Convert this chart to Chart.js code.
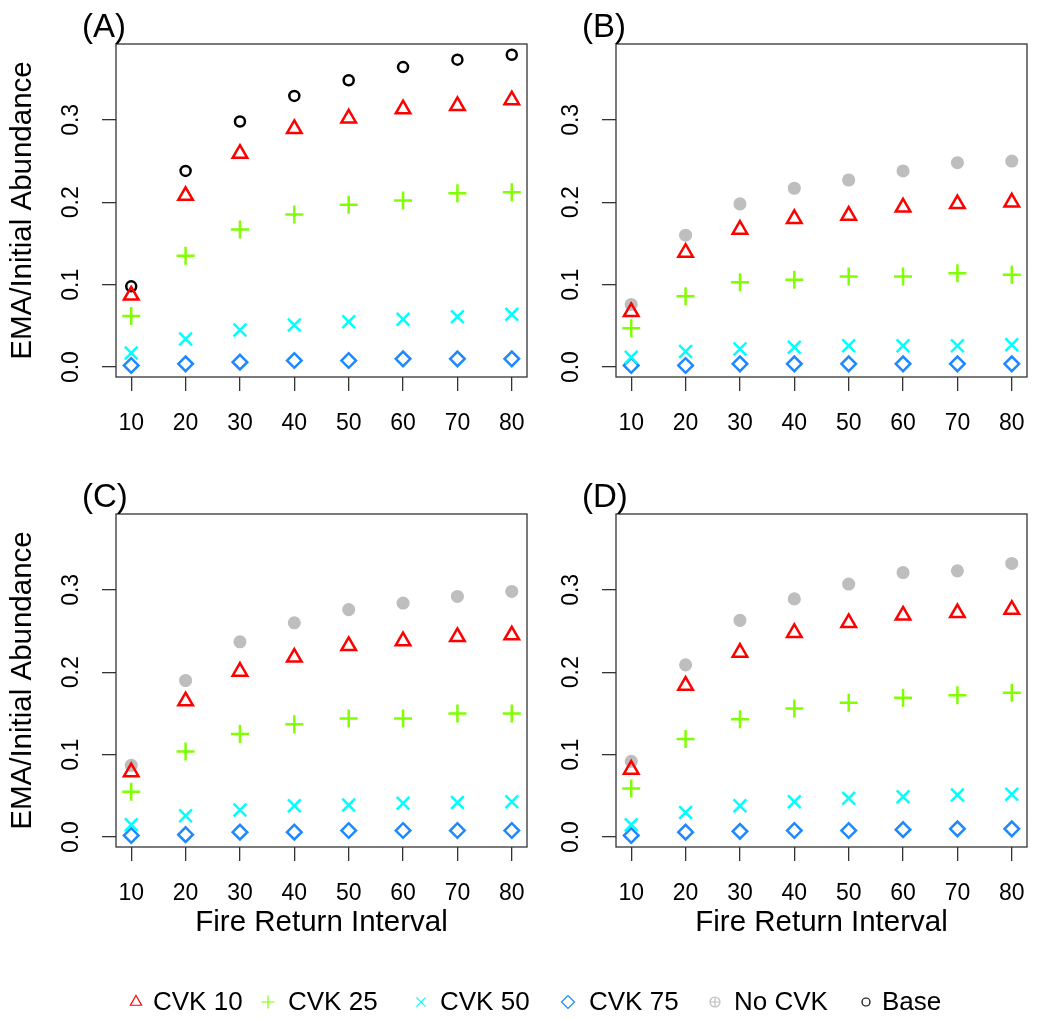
<!DOCTYPE html>
<html>
<head>
<meta charset="utf-8">
<script src="https://cdn.jsdelivr.net/npm/chart.js"></script>
<style>
  html, body { margin: 0; padding: 0; background: #fff; overflow: hidden; }
  #wrap { position: relative; width: 1044px; height: 1021px; }
  canvas { position: absolute; }
</style>
</head>
<body>
<div id="wrap">
  <canvas id="panel-a" width="544" height="470" style="left:0;top:0"></canvas>
  <canvas id="panel-b" width="544" height="470" style="left:500px;top:0"></canvas>
  <canvas id="panel-c" width="544" height="470" style="left:0;top:470px"></canvas>
  <canvas id="panel-d" width="544" height="470" style="left:500px;top:470px"></canvas>
  <canvas id="legend" width="1044" height="61" style="left:0;top:960px"></canvas>
</div>
<script>
// x values and tick marks
const fireInterval = [10, 20, 30, 40, 50, 60, 70, 80];
const yTicks = [0, 0.1, 0.2, 0.3];

// (A)
const cvk10A = [0.087, 0.208, 0.259, 0.289, 0.302, 0.313, 0.317, 0.324];
const cvk25A = [0.062, 0.135, 0.167, 0.185, 0.197, 0.202, 0.211, 0.212];
const cvk50A = [0.017, 0.034, 0.045, 0.051, 0.055, 0.058, 0.061, 0.064];
const cvk75A = [0.002, 0.004, 0.006, 0.008, 0.008, 0.010, 0.010, 0.010];
const baseA  = [0.098, 0.238, 0.298, 0.329, 0.348, 0.364, 0.373, 0.379];

// (B)
const cvk10B = [0.067, 0.139, 0.167, 0.180, 0.184, 0.194, 0.198, 0.200];
const cvk25B = [0.047, 0.086, 0.103, 0.106, 0.110, 0.110, 0.114, 0.112];
const cvk50B = [0.012, 0.019, 0.022, 0.024, 0.026, 0.026, 0.026, 0.027];
const cvk75B = [0.002, 0.002, 0.004, 0.004, 0.004, 0.004, 0.004, 0.004];
const noCvkB = [0.076, 0.160, 0.198, 0.217, 0.227, 0.238, 0.248, 0.250];

// (C)
const cvk10C = [0.079, 0.165, 0.201, 0.218, 0.232, 0.238, 0.243, 0.245];
const cvk25C = [0.055, 0.104, 0.125, 0.137, 0.144, 0.144, 0.150, 0.150];
const cvk50C = [0.015, 0.026, 0.033, 0.038, 0.039, 0.041, 0.042, 0.043];
const cvk75C = [0.002, 0.003, 0.006, 0.006, 0.008, 0.008, 0.008, 0.008];
const noCvkC = [0.087, 0.190, 0.237, 0.260, 0.276, 0.284, 0.292, 0.298];

// (D)
const cvk10D = [0.082, 0.184, 0.224, 0.248, 0.260, 0.269, 0.272, 0.276];
const cvk25D = [0.059, 0.119, 0.143, 0.156, 0.163, 0.169, 0.172, 0.175];
const cvk50D = [0.015, 0.030, 0.038, 0.043, 0.047, 0.049, 0.051, 0.052];
const cvk75D = [0.002, 0.006, 0.007, 0.008, 0.008, 0.009, 0.010, 0.010];
const noCvkD = [0.092, 0.209, 0.263, 0.289, 0.307, 0.321, 0.323, 0.332];

const legendLabels = ['CVK 10', 'CVK 25', 'CVK 50', 'CVK 75', 'No CVK', 'Base'];

const FONT = '"Liberation Sans", Arial, sans-serif';
const NONE = 'rgba(0,0,0,0)';

// marker looks, one per series
const styles = {
  cvk10: { pointStyle: 'triangle', pointRadius: 8.4, pointBorderWidth: 2.5, pointBorderColor: '#FF0000', pointBackgroundColor: NONE },
  cvk25: { pointStyle: 'cross', pointRadius: 9, pointBorderWidth: 2.5, pointBorderColor: '#7FFF00', pointBackgroundColor: NONE },
  cvk50: { pointStyle: 'crossRot', pointRadius: 9, pointBorderWidth: 2.5, pointBorderColor: '#00FFFF', pointBackgroundColor: NONE },
  cvk75: { pointStyle: 'rectRot', pointRadius: 7.3, pointBorderWidth: 2.5, pointBorderColor: '#1E88FF', pointBackgroundColor: NONE },
  noCvk: { pointStyle: 'circle', pointRadius: 5.8, pointBorderWidth: 1.5, pointBorderColor: '#BEBEBE', pointBackgroundColor: '#BEBEBE' },
  base:  { pointStyle: 'circle', pointRadius: 5, pointBorderWidth: 2.5, pointBorderColor: '#000000', pointBackgroundColor: NONE }
};

function series(label, values, style) {
  return Object.assign({
    label: label,
    data: values.map((v, i) => ({ x: fireInterval[i], y: v })),
    showLine: false,
    pointHoverRadius: 0
  }, styles[style]);
}

// box round the plot plus panel letter and axis titles
const panelDecor = {
  id: 'panelDecor',
  beforeDatasetsDraw(chart, args, opts) {
    const { ctx, chartArea: a } = chart;
    ctx.save();
    ctx.strokeStyle = '#333';
    ctx.lineWidth = 1.3;
    ctx.strokeRect(a.left, a.top, a.right - a.left, a.bottom - a.top);
    ctx.fillStyle = '#000';
    ctx.textAlign = 'left';
    ctx.textBaseline = 'alphabetic';
    ctx.font = '33px ' + FONT;
    ctx.fillText(opts.label, a.left - 34, a.top - 7);
    ctx.font = '29.5px ' + FONT;
    ctx.textAlign = 'center';
    ctx.textBaseline = 'middle';
    if (opts.yTitle) {
      ctx.save();
      ctx.translate(23, (a.top + a.bottom) / 2);
      ctx.rotate(-Math.PI / 2);
      ctx.fillText(opts.yTitle, 0, 0);
      ctx.restore();
    }
    if (opts.xTitle) {
      ctx.fillText(opts.xTitle, (a.left + a.right) / 2, a.bottom + 76);
    }
    ctx.restore();
  }
};

function renderPanel(id, datasets, decor) {
  const ctx = document.getElementById(id).getContext('2d');
  const tickFont = { family: FONT, size: 23 };
  const grid = { drawOnChartArea: false, drawTicks: true, tickLength: 14, color: '#333', lineWidth: 1.3 };
  new Chart(ctx, {
    type: 'scatter',
    data: { datasets: datasets },
    options: {
      responsive: false,
      animation: false,
      events: [],
      layout: { padding: { top: 44, right: 4, left: 0, bottom: 0 } },
      plugins: {
        legend: { display: false },
        tooltip: { enabled: false },
        panelDecor: decor
      },
      scales: {
        x: {
          type: 'linear',
          min: 7.2,
          max: 82.8,
          afterBuildTicks: axis => { axis.ticks = fireInterval.map(v => ({ value: v })); },
          afterFit: axis => { axis.height = 93; },
          ticks: { autoSkip: false, maxRotation: 0, padding: 19, font: tickFont, color: '#000', callback: v => String(v) },
          grid: grid,
          border: { display: false }
        },
        y: {
          type: 'linear',
          min: -0.012,
          max: 0.392,
          afterBuildTicks: axis => { axis.ticks = yTicks.map(v => ({ value: v })); },
          afterFit: axis => { axis.width = 116; },
          ticks: { minRotation: 90, maxRotation: 90, crossAlign: 'center', padding: 14, font: tickFont, color: '#000', callback: v => v.toFixed(1) },
          grid: grid,
          border: { display: false }
        }
      }
    },
    plugins: [panelDecor]
  });
}

renderPanel('panel-a', [
  series('CVK 10', cvk10A, 'cvk10'),
  series('CVK 25', cvk25A, 'cvk25'),
  series('CVK 50', cvk50A, 'cvk50'),
  series('CVK 75', cvk75A, 'cvk75'),
  series('Base', baseA, 'base')
], { label: '(A)', yTitle: 'EMA/Initial Abundance' });

renderPanel('panel-b', [
  series('CVK 10', cvk10B, 'cvk10'),
  series('CVK 25', cvk25B, 'cvk25'),
  series('CVK 50', cvk50B, 'cvk50'),
  series('CVK 75', cvk75B, 'cvk75'),
  series('No CVK', noCvkB, 'noCvk')
], { label: '(B)' });

renderPanel('panel-c', [
  series('CVK 10', cvk10C, 'cvk10'),
  series('CVK 25', cvk25C, 'cvk25'),
  series('CVK 50', cvk50C, 'cvk50'),
  series('CVK 75', cvk75C, 'cvk75'),
  series('No CVK', noCvkC, 'noCvk')
], { label: '(C)', yTitle: 'EMA/Initial Abundance', xTitle: 'Fire Return Interval' });

renderPanel('panel-d', [
  series('CVK 10', cvk10D, 'cvk10'),
  series('CVK 25', cvk25D, 'cvk25'),
  series('CVK 50', cvk50D, 'cvk50'),
  series('CVK 75', cvk75D, 'cvk75'),
  series('No CVK', noCvkD, 'noCvk')
], { label: '(D)', xTitle: 'Fire Return Interval' });

// shared legend along the bottom, thin markers like R's legend()
function renderLegend() {
  const ctx = document.getElementById('legend').getContext('2d');
  const keys = ['cvk10', 'cvk25', 'cvk50', 'cvk75', 'noCvk', 'base'];
  const markerX = [136, 268, 421, 568, 715, 866];
  const textX = [153, 288, 440, 589, 734, 882];
  const y = 42;
  const draw = Chart.helpers && Chart.helpers.drawPoint;
  keys.forEach((k, i) => {
    const s = styles[k];
    const r = k === 'base' ? 4 : (k === 'noCvk' ? 5 : 6.5);
    ctx.save();
    ctx.lineWidth = 1.2;
    ctx.strokeStyle = s.pointBorderColor;
    ctx.fillStyle = NONE;
    if (draw) {
      if (k === 'noCvk') {
        draw(ctx, { pointStyle: 'circle', radius: r, borderWidth: 1.2, rotation: 0 }, markerX[i], y);
        draw(ctx, { pointStyle: 'cross', radius: r, borderWidth: 1.2, rotation: 0 }, markerX[i], y);
      } else {
        draw(ctx, { pointStyle: s.pointStyle, radius: r, borderWidth: 1.2, rotation: 0 }, markerX[i], y);
      }
    }
    ctx.restore();
    ctx.fillStyle = '#000';
    ctx.font = '26px ' + FONT;
    ctx.textAlign = 'left';
    ctx.textBaseline = 'middle';
    ctx.fillText(legendLabels[i], textX[i], y + 1);
  });
}
renderLegend();
</script>
</body>
</html>
